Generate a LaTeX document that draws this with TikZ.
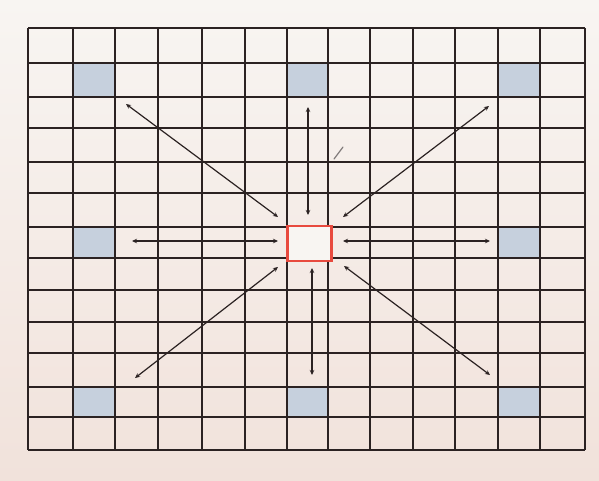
\documentclass[tikz,border=0pt]{standalone}
\usetikzlibrary{arrows.meta}
\definecolor{paper}{HTML}{F4ECE7}
\definecolor{papertop}{HTML}{F8F5F2}
\definecolor{paperbot}{HTML}{F1E2DB}
\definecolor{ink}{HTML}{2B2222}
\definecolor{cellblue}{HTML}{C6D0DD}
\definecolor{cellred}{HTML}{E84A3E}
\tikzset{
  gridline/.style={draw=ink, line width=1.9pt},
  thickline/.style={draw=ink, line width=2.8pt},
  bluecell/.style={fill=cellblue},
  redcell/.style={draw=cellred, line width=2.2pt, fill=papertop},
  arr/.style={draw=ink, line width=1.2pt, {Stealth[length=5pt,width=4.5pt]}-{Stealth[length=5pt,width=4.5pt]}},
  stray/.style={draw=ink!60, line width=1.2pt, line cap=round}
}
\begin{document}
\begin{tikzpicture}[x=1pt,y=-1pt]
\useasboundingbox (0,0) rectangle (599,480);
\shade[top color=papertop, bottom color=paperbot] (0,0) rectangle (599,480);
% blue cells
\foreach \xa/\xb/\ya/\yb in {73/115/63/97, 287/328/63/97, 498/540/63/97,
  73/115/227/258, 498/540/227/258,
  73/115/387/417, 287/328/387/417, 498/540/387/417}
  \fill[bluecell] (\xa,\ya) rectangle (\xb,\yb);
% grid lines
\foreach \x in {28,115,158,202,245,287,370,413,455,540,585}
  \draw[gridline] (\x,28) -- (\x,450);
\foreach \x in {73,328,498}
  \draw[thickline] (\x,28) -- (\x,450);
\foreach \y in {28,63,128,162,193,227,258,290,322,353,417,450}
  \draw[gridline] (28,\y) -- (585,\y);
\foreach \y in {97,387}
  \draw[thickline] (28,\y) -- (585,\y);
% red centre cell
\node[redcell, minimum width=44pt, minimum height=35pt, inner sep=0pt] (centre) at (309.5,243.5) {};
% arrow end points
\coordinate (nwo) at (126,104); \coordinate (nwi) at (278,217);
\coordinate (no) at (308,107);  \coordinate (ni) at (308,215);
\coordinate (neo) at (489,106); \coordinate (nei) at (343,217);
\coordinate (wo) at (132,241);  \coordinate (wi) at (278,241);
\coordinate (eo) at (490,241);  \coordinate (ei) at (343,241);
\coordinate (swo) at (135,378); \coordinate (swi) at (278,267);
\coordinate (so) at (312,375);  \coordinate (si) at (312,268);
\coordinate (seo) at (490,375); \coordinate (sei) at (344,266);
\draw[arr] (nwo) -- (nwi);
\draw[arr] (no) -- (ni);
\draw[arr] (neo) -- (nei);
\draw[arr] (wo) -- (wi);
\draw[arr] (eo) -- (ei);
\draw[arr] (swo) -- (swi);
\draw[arr] (so) -- (si);
\draw[arr] (seo) -- (sei);
% small stray mark
\coordinate (mka) at (343,147); \coordinate (mkb) at (334,159);
\draw[stray] (mka) -- (mkb);
\end{tikzpicture}
\end{document}
